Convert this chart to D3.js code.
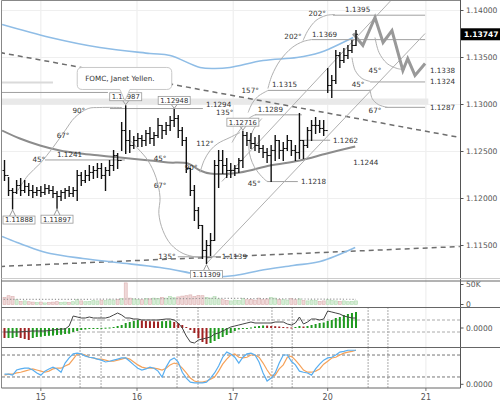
<!DOCTYPE html>
<html><head><meta charset="utf-8">
<script src="https://cdn.jsdelivr.net/npm/d3@7"></script>
<style>
body{margin:0;background:#fff}
svg{display:block}
text{font-family:"DejaVu Sans",Verdana,sans-serif}
</style></head>
<body><svg id="c" width="500" height="404"></svg>
<script>
// ---------------- DATA ----------------
// hourly OHLC bars (index 0..87)
const highs=[1.12404,1.12223,1.12106,1.12191,1.12213,1.12191,1.12160,1.12138,1.12117,1.12128,
1.12149,1.12138,1.12128,1.12074,1.12085,1.12106,1.12128,1.12117,1.12298,1.12277,
1.12298,1.12351,1.12340,1.12372,1.12372,1.12330,1.12404,1.12511,1.12479,1.12809,
1.12987,1.12723,1.12660,1.12691,1.12670,1.12723,1.12755,1.12702,1.12851,1.12777,
1.12809,1.12872,1.12948,1.12883,1.12755,1.12649,1.12319,1.12138,1.11904,1.11713,
1.11553,1.11628,1.12404,1.12511,1.12511,1.12426,1.12372,1.12351,1.12426,1.12716,
1.12702,1.12691,1.12649,1.12670,1.12564,1.12532,1.12564,1.12670,1.12617,1.12596,
1.12670,1.12617,1.12564,1.12904,1.12617,1.12755,1.12830,1.12862,1.12830,1.12830,
1.13383,1.13309,1.13574,1.13553,1.13596,1.13628,1.13681,1.13787];
const lows=[1.12191,1.12032,1.11888,1.12053,1.12032,1.12064,1.12032,1.12011,1.12032,1.12021,
1.12043,1.12053,1.12011,1.11897,1.11979,1.12000,1.12021,1.12021,1.11979,1.12138,
1.12170,1.12191,1.12213,1.12223,1.12213,1.12085,1.12245,1.12298,1.12319,1.12511,
1.12479,1.12489,1.12532,1.12553,1.12553,1.12564,1.12585,1.12564,1.12649,1.12638,
1.12681,1.12723,1.12766,1.12649,1.12564,1.12277,1.12032,1.11766,1.11681,1.11362,
1.11309,1.11394,1.11553,1.12117,1.12266,1.12223,1.12223,1.12245,1.12277,1.12330,
1.12564,1.12532,1.12511,1.12489,1.12436,1.12383,1.12181,1.12404,1.12426,1.12404,
1.12511,1.12457,1.12404,1.12426,1.12426,1.12543,1.12617,1.12691,1.12702,1.12670,
1.13128,1.13074,1.13223,1.13394,1.13447,1.13489,1.13553,1.13628];
const closes=[1.12245,1.12085,1.12064,1.12138,1.12085,1.12128,1.12085,1.12064,1.12085,1.12064,
1.12106,1.12085,1.12053,1.12021,1.12064,1.12085,1.12053,1.12085,1.12245,1.12191,
1.12245,1.12277,1.12298,1.12319,1.12245,1.12298,1.12351,1.12457,1.12404,1.12723,
1.12617,1.12564,1.12617,1.12638,1.12617,1.12691,1.12638,1.12670,1.12777,1.12723,
1.12777,1.12830,1.12851,1.12723,1.12617,1.12319,1.12085,1.11872,1.11713,1.11447,
1.11500,1.11553,1.12351,1.12404,1.12351,1.12298,1.12298,1.12319,1.12404,1.12670,
1.12617,1.12585,1.12564,1.12532,1.12489,1.12457,1.12511,1.12617,1.12511,1.12532,
1.12617,1.12511,1.12489,1.12617,1.12564,1.12723,1.12777,1.12777,1.12745,1.12723,
1.13202,1.13255,1.13521,1.13468,1.13521,1.13574,1.13628,1.13747];
const firstOpen=1.12298;
const lastPrice="1.13747";
// volume (thousands)
const volumes=[18,22,20,12,8,9,7,6,5,6,4,5,6,7,5,6,5,7,12,9,7,8,10,9,11,10,12,11,13,15,
54,16,14,13,12,15,14,16,15,18,16,20,17,19,21,22,24,20,23,22,18,16,20,14,12,10,9,11,10,15,
12,13,11,16,12,14,18,16,13,12,11,15,12,14,10,9,11,10,8,9,12,10,9,8,9,7,8,9];
const volumeMA=[[-1,13],[20,13],[40,14.5],[55,15.5],[70,14],[87,13]];
// MACD histogram & line
const macdHist=[-0.0010,-0.0010,-0.0010,-0.0009,-0.0010,-0.0011,-0.0012,-0.0010,-0.0009,-0.00088,
-0.0008,-0.00078,-0.00076,-0.0007,-0.00068,-0.0006,-0.00058,-0.0004,-0.0003,-0.0002,
-0.00015,-0.0001,-0.00005,-0.00002,0.00001,0.00003,0.00005,0.0001,0.0002,0.0003,
0.0005,0.0006,0.0007,0.0008,0.00075,0.0007,0.00068,0.00066,0.00064,0.00068,
0.0007,0.00075,0.0006,0.0005,0.0003,0.0001,-0.0002,-0.0005,-0.0010,-0.0014,
-0.0016,-0.0015,-0.0013,-0.0011,-0.0009,-0.0007,-0.0005,-0.0003,-0.00015,-0.0001,
-0.00003,0.00005,0.00015,0.0002,0.00025,0.00024,0.0002,0.00018,0.00015,0.0001,
0.00008,0.00005,0.0001,0.0002,0.00015,0.0002,0.0003,0.0004,0.0005,0.00055,
0.0007,0.0008,0.0010,0.0011,0.0013,0.0014,0.0015,0.0016];
const macdLine=[-0.0004,-0.0004,-0.0004,-0.0004,-0.00038,-0.00035,-0.00033,-0.0003,-0.0003,-0.0003,
-0.0003,-0.00025,-0.0002,-0.00015,-0.0001,-0.0001,0.0002,0.0012,0.0011,0.0010,
0.0010,0.0011,0.0010,0.0010,0.0010,0.0010,0.0011,0.0013,0.0015,0.0013,
0.0010,0.0010,0.0009,0.0009,0.0008,0.0008,0.0008,0.0008,0.0008,0.00085,
0.0009,0.0009,0.0008,0.0005,0.0000,-0.0008,-0.0014,-0.0015,-0.0012,-0.0011,
-0.0010,-0.0009,-0.0006,-0.0005,-0.0003,-0.0001,0.0001,0.0002,0.0003,0.0004,
0.0005,0.0006,0.0005,0.0005,0.0005,0.0005,0.0005,0.0006,0.0006,0.0006,
0.0004,0.0003,0.0005,0.0011,0.0004,0.0006,0.0009,0.0009,0.0008,0.0009,
0.0017,0.0016,0.0015,0.0014,0.0012,0.0011,0.0010,0.0010];
const macdLevels=[0.0008,-0.0004];
// Stochastic %K (blue) and %D (orange)
const stochK=[28,28,25,39,42,44,44,39,31,25,36,42,47,42,33,58,72,83,85,83,
77,74,72,69,66,61,63,66,69,72,72,63,53,44,39,42,47,44,36,20,
47,66,72,61,33,17,6,4,4,4,6,17,31,50,74,88,83,74,58,74,
83,85,80,61,31,9,17,31,58,80,80,63,53,36,33,31,25,42,55,66,
72,74,80,88,90,93,93,93];
const stochD=[25,28,28,31,33,36,39,42,39,36,33,36,42,44,44,50,55,69,83,83,
80,74,72,69,69,66,63,63,66,69,72,69,61,53,47,44,44,44,42,39,
44,53,58,55,44,31,17,9,6,6,9,14,20,36,55,69,80,83,74,72,
74,80,80,74,58,39,23,25,42,53,74,77,66,53,39,33,33,36,42,55,
63,72,74,80,85,88,90,93];
const stochLevels=[80,20];
// bands / averages (sparse points: [bar index, price])
const upperBand=[[-0.6,1.13851],[11.3,1.13713],[23.6,1.13606],[36,1.13543],[41,1.13521],[48.4,1.13394],[52.1,1.13383],[55.8,1.13394],[64,1.13468],[72.4,1.13500],[78.1,1.13553],[80.6,1.13596],[86.3,1.13713]];
const lowerBand=[[-0.6,1.11596],[3.1,1.11532],[7.1,1.11468],[11.3,1.11415],[19.4,1.11362],[27.8,1.11319],[38.5,1.11266],[46.7,1.11202],[50.9,1.11170],[57,1.11181],[63.2,1.11234],[71.4,1.11287],[78.1,1.11330],[86.8,1.11479]];
const movingAvg=[[-0.6,1.12723],[3.8,1.12638],[8.8,1.12564],[13.7,1.12511],[18.7,1.12479],[23.6,1.12457],[28.6,1.12436],[36,1.12404],[40.5,1.12383],[45.4,1.12372],[48.4,1.12298],[50.9,1.12266],[58.3,1.12277],[65.7,1.12351],[73.1,1.12404],[79.8,1.12479],[86.8,1.12553]];
// trend lines
const dashedLines=[[[-1.1,1.13553],[112.7,1.12649]],[[-1.1,1.11277],[112.7,1.11489]]];
const channelLines=[[[50,1.11309],[104.1,1.13755]],[[53.8,1.12181],[95.5,1.14100]]];
const projection=[[86.3,1.13755],[88.7,1.13628],[91.7,1.13926],[93.7,1.13660],[95.9,1.13787],[98.6,1.13362],[99.8,1.13489],[101.6,1.13309],[104.1,1.13436]];
// horizontal levels: price, from, to, label, label index, placement
const levels=[
 {p:1.1395,a:81.3,b:104.1,t:"1.1395",li:84.3,pos:"above"},
 {p:1.1369,a:76.1,b:104.1,t:"1.1369",li:76.1,pos:"above"},
 {p:1.1324,a:90.5,b:104.1,t:"1.1324",li:105.3,pos:"right"},
 {p:1.1315,a:65.2,b:90.5,t:"1.1315",li:66.2,pos:"above"},
 {p:1.1297,a:94.2,b:104.1,t:"1.1287",li:105.3,pos:"right"},
 {p:1.12957,a:26.1,b:49.1,t:"1.1294",li:49.9,pos:"rightUp"},
 {p:1.1289,a:62.0,b:73.6,t:"1.1289",li:62.7,pos:"above"},
 {p:1.1262,a:73.1,b:80.6,t:"1.1262",li:81.3,pos:"right"},
 {p:1.1241,a:10.0,b:29.8,t:"1.1241",li:13.0,pos:"above"},
 {p:1.1218,a:65.0,b:72.6,t:"1.1218",li:73.4,pos:"right"},
 {p:1.1138,a:42.9,b:53.3,t:"1.1139",li:53.8,pos:"right"},
 {p:1.13128,a:-1,b:25.6,t:"",li:0,pos:"none"}
];
const freeLabels=[{t:"1.1338",i:105.3,p:1.13362},{t:"1.1244",i:86.3,p:1.12383}];
const angleLabels=[["90°",18.4,1.12936],["67°",14.5,1.12670],["45°",8.5,1.12415],["45°",38.5,1.12426],
["67°",38.5,1.12138],["90°",46.2,1.12330],["112°",49.6,1.12585],["135°",40.2,1.11383],["135°",54.5,1.12910],
["157°",60.8,1.13149],["202°",71.4,1.13723],["202°",77.4,1.13968],["45°",61.8,1.12160],["45°",91.7,1.13362],
["45°",87.5,1.13213],["67°",91.7,1.12936]];
const arcs=[
 [[3.3,1.12085],[5.8,1.12245],[8.8,1.12372],[12.0,1.12543],[15.0,1.12723],[17.4,1.12862],[20.7,1.12957],[23.6,1.12968],[29.1,1.12968]],
 [[31.1,1.12617],[33.0,1.12532],[35.5,1.12404],[37.5,1.12223],[38.5,1.12011],[38.2,1.11840],[39.2,1.11660],[41.2,1.11511],[44.2,1.11415],[47.9,1.11372]],
 [[48.4,1.12277],[49.4,1.12404],[50.9,1.12511],[52.8,1.12585],[55.8,1.12649],[58.3,1.12702]],
 [[56.3,1.12596],[57.8,1.12702],[59.3,1.12787],[60.8,1.12862],[62.3,1.12894]],
 [[60.3,1.12915],[61.3,1.13011],[62.7,1.13085],[65.2,1.13149]],
 [[65.2,1.13170],[66.2,1.13309],[68.2,1.13468],[71.2,1.13606],[73.9,1.13670],[76.1,1.13691]],
 [[73.9,1.13681],[75.1,1.13787],[77.1,1.13894],[79.6,1.13947],[81.8,1.13957]],
 [[63.7,1.12851],[61.5,1.12723],[60.5,1.12532],[61.8,1.12340],[64.7,1.12191],[65.2,1.12181]],
 [[86.0,1.13500],[86.8,1.13362],[88.5,1.13277],[90.5,1.13245]],
 [[91.7,1.13713],[92.7,1.13553],[94.7,1.13436],[97.2,1.13383],[99.1,1.13372]],
 [[90.5,1.13160],[91.0,1.13064],[92.5,1.13000],[94.9,1.12968]]
];
// extreme price tags: [text, bar index, side]
const priceTags=[["1.11888",2,"below"],["1.11897",13,"below"],["1.11309",50,"below"],
["1.12987",30,"above"],["1.12948",42,"above"],["1.12716",59,"above"]];
const callout={t:"FOMC, Janet Yellen.",i0:18,i1:41.4,pTop:1.13394,pBot:1.13160,pi:29.8,pp:1.13040};
const zoneBand={pTop:1.13064,pBot:1.13000,a:-1.5,b:104.9};
const lightBar={p:1.13234,a:-1.5,b:12};
// axes
const priceTicks=[1.14,1.135,1.13,1.125,1.12,1.115];
const dayTicks=[[9,"15"],[32.8,"16"],[56.6,"17"],[80,"20"],[104.3,"21"]];
const sessionMarks=[18.7,23.9,42.7,47.9,66.2,71.2,90,94.9];
const volTicks=[[50,"50K"],[0,"0"]];

// ---------------- SCALES ----------------
const svg=d3.select("#c");
const x=d3.scaleLinear().domain([0,87]).range([4.5,356]);
const yP=d3.scaleLinear().domain([1.115,1.14]).range([245.5,10.5]);
const yV=d3.scaleLinear().domain([0,50]).range([304.5,284.5]);
const yM=d3.scaleLinear().domain([-0.002,0.002]).range([348,308]);
const yS=d3.scaleLinear().domain([0,100]).range([384.3,347.7]);
const PL=2,PR=460.5;
const panels={main:[1,280.5],vol:[281,307.5],macd:[307.5,347.5],sto:[347.5,388]};

const defs=svg.append("defs");
function clip(id,y0,y1,x0=PL,x1=PR){defs.append("clipPath").attr("id",id).append("rect").attr("x",x0).attr("y",y0).attr("width",x1-x0).attr("height",y1-y0);}
clip("cm",...panels.main);clip("cv",...panels.vol);clip("cd",...panels.macd);clip("cs",...panels.sto);

// grid
const grid=svg.append("g");
dayTicks.forEach(([i])=>{grid.append("line").attr("x1",x(i)).attr("x2",x(i)).attr("y1",1).attr("y2",388).attr("stroke","#ebebeb");});
priceTicks.forEach(p=>{grid.append("line").attr("x1",PL).attr("x2",PR).attr("y1",yP(p)).attr("y2",yP(p)).attr("stroke","#efefef");});

// ---------------- MAIN PANEL ----------------
const gm=svg.append("g").attr("clip-path","url(#cm)");
const ln=d3.line().x(d=>x(d[0])).y(d=>yP(d[1]));
const lnC=d3.line().x(d=>x(d[0])).y(d=>yP(d[1])).curve(d3.curveCatmullRom.alpha(0.5));
gm.append("rect").attr("x",x(zoneBand.a)).attr("width",x(zoneBand.b)-x(zoneBand.a)).attr("y",yP(zoneBand.pTop)).attr("height",yP(zoneBand.pBot)-yP(zoneBand.pTop)).attr("fill","#e9e9e9");
gm.append("line").attr("x1",x(lightBar.a)).attr("x2",x(lightBar.b)).attr("y1",yP(lightBar.p)).attr("y2",yP(lightBar.p)).attr("stroke","#dadada").attr("stroke-width",2);
dashedLines.forEach(d=>gm.append("path").attr("d",ln(d)).attr("fill","none").attr("stroke","#6e6e6e").attr("stroke-width",1.5).attr("stroke-dasharray","5,4"));
[upperBand,lowerBand].forEach(d=>gm.append("path").attr("d",lnC(d)).attr("fill","none").attr("stroke","#8fbde6").attr("stroke-width",1.6));
gm.append("path").attr("d",lnC(movingAvg)).attr("fill","none").attr("stroke","#8c8c8c").attr("stroke-width",2);
levels.forEach(l=>{
  gm.append("line").attr("x1",x(l.a)).attr("x2",x(l.b)).attr("y1",yP(l.p)).attr("y2",yP(l.p)).attr("stroke","#a0a0a0").attr("stroke-width",1);
});
arcs.forEach(a=>gm.append("path").attr("d",lnC(a)).attr("fill","none").attr("stroke","#b0b0b0").attr("stroke-width",1));
channelLines.forEach(d=>gm.append("path").attr("d",ln(d)).attr("fill","none").attr("stroke","#b0b0b0").attr("stroke-width",1));
gm.append("path").attr("d",ln(projection)).attr("fill","none").attr("stroke","#999").attr("stroke-width",3).attr("stroke-linejoin","miter");

// OHLC bars
const opens=closes.map((c,i)=>i===0?firstOpen:closes[i-1]);
const gb=gm.append("g").attr("stroke","#111").attr("stroke-width",1.4);
highs.forEach((h,i)=>{
  const cx=x(i);
  gb.append("line").attr("x1",cx).attr("x2",cx).attr("y1",yP(h)-0.5).attr("y2",yP(lows[i])+0.5);
  gb.append("line").attr("x1",cx-2).attr("x2",cx).attr("y1",yP(opens[i])).attr("y2",yP(opens[i])).attr("stroke-width",1);
  gb.append("line").attr("x1",cx).attr("x2",cx+2).attr("y1",yP(closes[i])).attr("y2",yP(closes[i])).attr("stroke-width",1);
});

// labels
const gt=gm.append("g").attr("font-size",7.2).attr("fill","#333");
levels.filter(l=>l.pos!=="none").forEach(l=>{
  if(l.pos==="above") gt.append("text").attr("x",x(l.li)).attr("y",yP(l.p)-3).text(l.t);
  else if(l.pos==="rightUp") gt.append("text").attr("x",x(l.li)).attr("y",yP(l.p)-4).attr("dy","0.35em").text(l.t);
  else gt.append("text").attr("x",x(l.li)).attr("y",yP(l.p)).attr("dy","0.35em").text(l.t);
});
freeLabels.forEach(f=>gt.append("text").attr("x",x(f.i)).attr("y",yP(f.p)).attr("dy","0.35em").text(f.t));
angleLabels.forEach(([t,i,p])=>gt.append("text").attr("x",x(i)).attr("y",yP(p)).attr("dy","0.35em").attr("text-anchor","middle").text(t));

// price tags
priceTags.forEach(([t,i,side])=>{
  const cx=x(i), w=32, h=8;
  const bx=Math.max(PL+1,cx-w/2);
  let top, tip;
  if(side==="below"){tip=yP(lows[i])+1; top=yP(lows[i])+7;}
  else {tip=yP(highs[i])-1; top=yP(highs[i])-5-h;}
  const py= side==="below"? top : top+h;
  gm.append("path").attr("d",`M${cx-3},${py}L${cx},${tip}L${cx+3},${py}`).attr("fill","none").attr("stroke","#999");
  gm.append("rect").attr("x",bx).attr("y",top).attr("width",w).attr("height",h).attr("fill","#fff").attr("stroke","#999").attr("stroke-width",0.8);
  gm.append("text").attr("x",bx+w/2).attr("y",top+h/2).attr("dy","0.35em").attr("text-anchor","middle").attr("font-size",6.8).attr("fill","#333").text(t);
});

// callout
{
  const x0=x(callout.i0),x1=x(callout.i1),y0=yP(callout.pTop),y1=yP(callout.pBot),px=x(callout.pi),py=yP(callout.pp);
  const r=5;
  const d=`M${x0+r},${y0}H${x1-r}Q${x1},${y0} ${x1},${y0+r}V${y1-r}Q${x1},${y1} ${x1-r},${y1}H${px+5}L${px},${py}L${px-5},${y1}H${x0+r}Q${x0},${y1} ${x0},${y1-r}V${y0+r}Q${x0},${y0} ${x0+r},${y0}Z`;
  gm.append("path").attr("d",d).attr("fill","#fff").attr("stroke","#c8c8c8");
  gm.append("text").attr("x",x0+8).attr("y",(y0+y1)/2).attr("dy","0.35em").attr("font-size",7.2).attr("fill","#333").text(callout.t);
}

// ---------------- VOLUME ----------------
const gv=svg.append("g").attr("clip-path","url(#cv)");
volumes.forEach((v,i)=>{
  const up=closes[i]>=opens[i];
  gv.append("rect").attr("x",x(i)-1.5).attr("width",3).attr("y",yV(v)).attr("height",yV(0)-yV(v))
   .attr("fill",up?"#d6ecd6":"#efd8d8").attr("stroke",up?"#b0dcb0":"#dcb0b0").attr("stroke-width",0.6);
});
gv.append("path").attr("d",d3.line().x(d=>x(d[0])).y(d=>yV(d[1]))(volumeMA)).attr("fill","none").attr("stroke","#999").attr("stroke-width",1.2).attr("stroke-dasharray","1.2,2");

// ---------------- MACD ----------------
const gd=svg.append("g").attr("clip-path","url(#cd)");
sessionMarks.forEach(i=>gd.append("line").attr("x1",x(i)).attr("x2",x(i)).attr("y1",307.5).attr("y2",347.5).attr("stroke","#555").attr("stroke-dasharray","1,2"));
macdLevels.forEach(v=>gd.append("line").attr("x1",PL).attr("x2",PR).attr("y1",yM(v)).attr("y2",yM(v)).attr("stroke","#aaa").attr("stroke-dasharray","3,2"));
macdHist.forEach((v,i)=>{
  const up=i===0?false:v>=macdHist[i-1];
  const y0=yM(0),y1=yM(v);
  gd.append("rect").attr("x",x(i)-1).attr("width",2).attr("y",Math.min(y0,y1)).attr("height",Math.max(1,Math.abs(y1-y0))).attr("fill",up?"#1e9a1e":"#a02222");
});
gd.append("path").attr("d",d3.line().x((d,i)=>x(i)).y(d=>yM(d))(macdLine)).attr("fill","none").attr("stroke","#444").attr("stroke-width",1);

// ---------------- STOCHASTIC ----------------
const gs=svg.append("g").attr("clip-path","url(#cs)");
sessionMarks.forEach(i=>gs.append("line").attr("x1",x(i)).attr("x2",x(i)).attr("y1",347.5).attr("y2",388).attr("stroke","#555").attr("stroke-dasharray","1,2"));
stochLevels.forEach(v=>gs.append("line").attr("x1",PL).attr("x2",PR).attr("y1",yS(v)).attr("y2",yS(v)).attr("stroke","#777").attr("stroke-dasharray","3,2"));
gs.append("path").attr("d",d3.line().x((d,i)=>x(i)).y(d=>yS(d))(stochD)).attr("fill","none").attr("stroke","#f5a25a").attr("stroke-width",1.2);
gs.append("path").attr("d",d3.line().x((d,i)=>x(i)).y(d=>yS(d))(stochK)).attr("fill","none").attr("stroke","#58aef0").attr("stroke-width",1.2);

// ---------------- AXIS LABELS ----------------
const ax=svg.append("g").attr("font-size",7.6).attr("fill","#555");
priceTicks.forEach(p=>{
  ax.append("line").attr("x1",PR).attr("x2",PR+3).attr("y1",yP(p)).attr("y2",yP(p)).attr("stroke","#555");
  ax.append("text").attr("x",466).attr("y",yP(p)).attr("dy","0.35em").text(p.toFixed(5));
});
volTicks.forEach(([v,t])=>{
  ax.append("line").attr("x1",PR).attr("x2",PR+3).attr("y1",yV(v)).attr("y2",yV(v)).attr("stroke","#555");
  ax.append("text").attr("x",466).attr("y",yV(v)).attr("dy","0.35em").text(t);
});
ax.append("line").attr("x1",PR).attr("x2",PR+3).attr("y1",yM(0)).attr("y2",yM(0)).attr("stroke","#555");
ax.append("text").attr("x",466).attr("y",yM(0)).attr("dy","0.35em").text("0.0000");
ax.append("line").attr("x1",PR).attr("x2",PR+3).attr("y1",yS(0)).attr("y2",yS(0)).attr("stroke","#555");
ax.append("text").attr("x",466).attr("y",yS(0)).attr("dy","0.35em").text("0.0000");
// mask below the stochastic panel so its bottom label looks cut, as in the original
ax.append("rect").attr("x",PR+0.5).attr("y",388.5).attr("width",39).attr("height",5).attr("fill","#fff");
// current price tag
ax.append("rect").attr("x",PR).attr("y",yP(+lastPrice)-6).attr("width",40).attr("height",12).attr("fill","#000");
ax.append("text").attr("x",464).attr("y",yP(+lastPrice)).attr("dy","0.35em").attr("fill","#fff").attr("font-weight","bold").attr("font-size",7.6).text(lastPrice);
// day labels
dayTicks.forEach(([i,t])=>{
  ax.append("line").attr("x1",x(i)).attr("x2",x(i)).attr("y1",388).attr("y2",391).attr("stroke","#777");
  ax.append("text").attr("x",x(i)).attr("y",397).attr("dy","0.35em").attr("text-anchor","middle").attr("font-size",8).text(t);
});

// ---------------- FRAMES ----------------
const fr=svg.append("g");
fr.append("line").attr("x1",1.5).attr("x2",1.5).attr("y1",0.5).attr("y2",388).attr("stroke","#888");
fr.append("line").attr("x1",1.5).attr("x2",PR).attr("y1",0.5).attr("y2",0.5).attr("stroke","#888");
fr.append("line").attr("x1",PR).attr("x2",PR).attr("y1",0).attr("y2",388).attr("stroke","#555");
fr.append("line").attr("x1",1.5).attr("x2",500).attr("y1",278.5).attr("y2",278.5).attr("stroke","#ccc");
[281,307.5,347.5].forEach(y=>fr.append("line").attr("x1",1.5).attr("x2",500).attr("y1",y).attr("y2",y).attr("stroke","#666"));
fr.append("line").attr("x1",1.5).attr("x2",PR).attr("y1",388).attr("y2",388).attr("stroke","#666");
</script></body></html>
